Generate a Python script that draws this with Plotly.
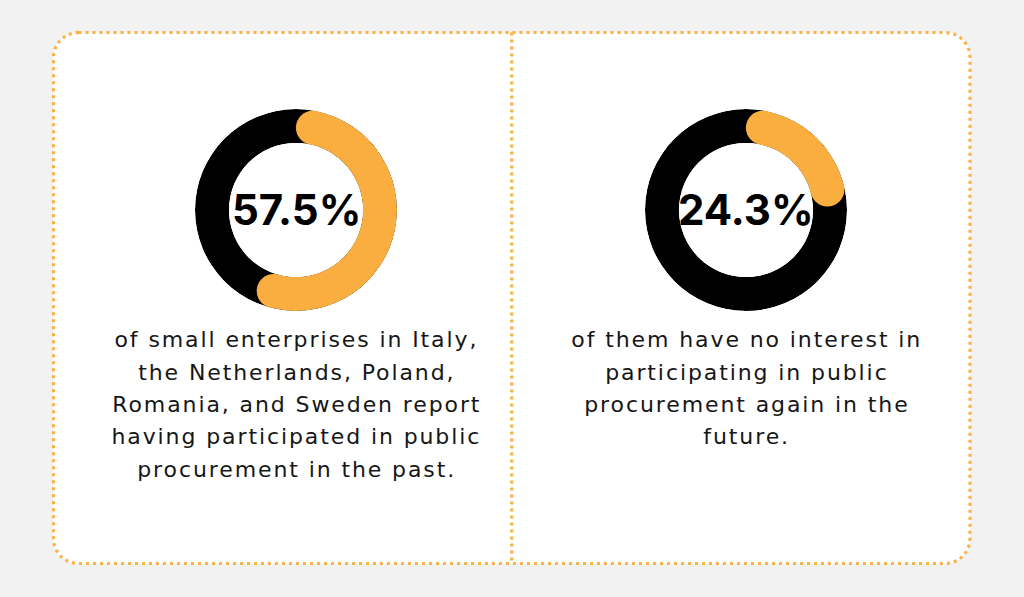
import math
import plotly.graph_objects as go

# ---------------- data ----------------
percent_values = [57.5, 24.3]
center_labels = ["57.5%", "24.3%"]
caption_left = [
    "of small enterprises in Italy,",
    "the Netherlands, Poland,",
    "Romania, and Sweden report",
    "having participated in public",
    "procurement in the past.",
]
caption_right = [
    "of them have no interest in",
    "participating in public",
    "procurement again in the",
    "future.",
]
captions = [caption_left, caption_right]

# ---------------- layout constants (pixels) ----------------
W, H = 1024, 597
ORANGE = "#f9ae3f"
DOT = "#f9b244"
BG = "#f2f2f2"
TEXT = "#161616"
centers = [(296, 210), (746, 210)]
R_OUT, R_IN = 101, 67
THICK = R_OUT - R_IN
R_MID = (R_OUT + R_IN) / 2
cap_deg = math.degrees((THICK / 2) / R_MID)
CAPTION_SIZE = 22
CAPTION_SPACING = 1.9  # px letter spacing of the caption font

def px(x):
    return x / W

def py(y):
    return 1 - y / H

fig = go.Figure()

for i, (pct, (cx, cy)) in enumerate(zip(percent_values, centers)):
    sub = "polar" if i == 0 else "polar2"
    total_deg = pct * 3.6
    start = cap_deg
    end = total_deg - cap_deg
    # black ring
    fig.add_trace(go.Barpolar(
        r=[1], theta=[180], width=[360], base=0,
        marker=dict(color="#000000", line=dict(width=0)),
        subplot=sub, hoverinfo="skip", showlegend=False,
    ))
    # orange arc
    fig.add_trace(go.Barpolar(
        r=[1], theta=[(start + end) / 2], width=[end - start], base=0,
        marker=dict(color=ORANGE, line=dict(width=0)),
        subplot=sub, hoverinfo="skip", showlegend=False,
    ))
    # rounded caps
    fig.add_trace(go.Scatterpolar(
        r=[0.5, 0.5], theta=[start, end], mode="markers",
        marker=dict(color=ORANGE, size=THICK, line=dict(width=0)),
        subplot=sub, hoverinfo="skip", showlegend=False,
    ))

polar_common = dict(
    bgcolor="rgba(0,0,0,0)",
    hole=R_IN / R_OUT,
    radialaxis=dict(visible=False, range=[0, 1]),
    angularaxis=dict(visible=False, direction="clockwise", rotation=90,
                     showgrid=False, showline=False, showticklabels=False, ticks=""),
    barmode="overlay",
)

layout_polars = {}
for i, (cx, cy) in enumerate(centers):
    name = "polar" if i == 0 else "polar2"
    layout_polars[name] = dict(
        domain=dict(x=[px(cx - R_OUT), px(cx + R_OUT)],
                    y=[py(cy + R_OUT), py(cy - R_OUT)]),
        **polar_common,
    )

# ---------------- card shapes ----------------
L, T, Rr, B, rad = 53.5, 32.5, 970.0, 563.5, 25.0
k = 0.5523 * rad

def P(x, y):
    return f"{px(x):.6f},{py(y):.6f}"

path = (
    f"M {P(L + rad, T)} L {P(Rr - rad, T)} "
    f"C {P(Rr - rad + k, T)} {P(Rr, T + rad - k)} {P(Rr, T + rad)} "
    f"L {P(Rr, B - rad)} "
    f"C {P(Rr, B - rad + k)} {P(Rr - rad + k, B)} {P(Rr - rad, B)} "
    f"L {P(L + rad, B)} "
    f"C {P(L + rad - k, B)} {P(L, B - rad + k)} {P(L, B - rad)} "
    f"L {P(L, T + rad)} "
    f"C {P(L, T + rad - k)} {P(L + rad - k, T)} {P(L + rad, T)} Z"
)

shapes = [
    dict(type="path", path=path, xref="paper", yref="paper",
         fillcolor="#ffffff", line=dict(color=DOT, width=3.2, dash="3px,4px"),
         layer="below"),
    dict(type="line", xref="paper", yref="paper",
         x0=px(511.7), x1=px(511.7), y0=py(T), y1=py(B),
         line=dict(color=DOT, width=3.2, dash="3px,4px"), layer="below"),
]

# ---------------- text ----------------
annotations = []
for lbl, (cx, cy) in zip(center_labels, centers):
    annotations.append(dict(
        text=lbl, x=px(cx), y=py(cy), xref="paper", yref="paper",
        xanchor="center", yanchor="middle", showarrow=False,
        font=dict(family="Inter, sans-serif", size=42, color="#000000", weight=700),
    ))

line_y0 = 340
line_step = 32.3
for lines, (cx, cy) in zip(captions, centers):
    for j, t in enumerate(lines):
        annotations.append(dict(
            text=t, x=px(cx), y=py(line_y0 + j * line_step), xref="paper", yref="paper",
            xanchor="center", yanchor="middle", showarrow=False, xshift=CAPTION_SPACING / 2,
            font=dict(family="DejaVu Sans, sans-serif", size=CAPTION_SIZE, color=TEXT),
        ))

fig.update_layout(
    width=W, height=H, autosize=False,
    margin=dict(l=0, r=0, t=0, b=0, pad=0),
    paper_bgcolor=BG, plot_bgcolor=BG,
    shapes=shapes, annotations=annotations,
    showlegend=False, hovermode=False,
    **layout_polars,
)

post = (
    "document.body.style.margin='0';"
    "var gd=document.getElementById('{plot_id}');"
    "gd.querySelectorAll('.annotation').forEach(function(a){"
    "  var idx=parseInt(a.getAttribute('data-index'));"
    "  if(idx>=%d){a.querySelectorAll('text').forEach(function(t){"
    "    t.style.letterSpacing='%spx';});}"
    "});"
) % (len(center_labels), CAPTION_SPACING)

fig.write_html("out.html", config={"displayModeBar": False}, post_script=post)
